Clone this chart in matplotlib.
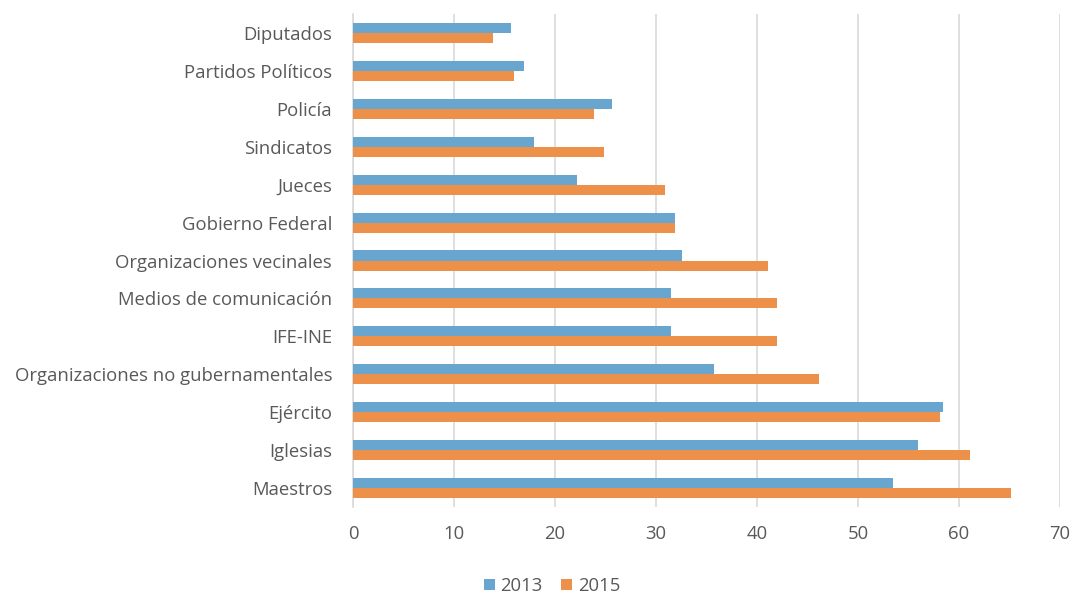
import matplotlib
matplotlib.use("Agg")
import matplotlib.pyplot as plt
import numpy as np

categories = ["Diputados", "Partidos Políticos", "Policía", "Sindicatos", "Jueces",
              "Gobierno Federal", "Organizaciones vecinales", "Medios de comunicación",
              "IFE-INE", "Organizaciones no gubernamentales", "Ejército", "Iglesias", "Maestros"]
v2013 = [15.6, 16.9, 25.6, 17.9, 22.2, 31.9, 32.6, 31.5, 31.5, 35.7, 58.4, 55.9, 53.5]
v2015 = [13.9, 15.9, 23.9, 24.9, 30.9, 31.9, 41.1, 42.0, 42.0, 46.1, 58.1, 61.1, 65.1]
series_labels = ["2013", "2015"]
xticks = [0, 10, 20, 30, 40, 50, 60, 70]

plt.rcParams['font.family'] = ['Open Sans', 'DejaVu Sans']
txt = "#595959"

fig = plt.figure(figsize=(10.7, 5.96), dpi=100)
ax = fig.add_axes([353/1070, 1-507/596, (1060-353)/1070, (507-14)/596])

y = np.arange(len(categories))
h = 0.265
c13 = "#68A6D0"
c15 = "#ED914A"
b1 = ax.barh(y - h/2, v2013, height=h, color=c13, label=series_labels[0], zorder=3)
b2 = ax.barh(y + h/2, v2015, height=h, color=c15, label=series_labels[1], zorder=3)

ax.set_ylim(len(categories) - 0.5, -0.5)
ax.set_xlim(0, 70)
ax.set_xticks(xticks)
ax.set_yticks(y)
ax.set_yticklabels(categories)
ax.tick_params(axis='both', length=0, labelsize=13.3, colors=txt)
ax.tick_params(axis='y', pad=15)
ax.tick_params(axis='x', pad=13)
ax.grid(axis='x', color="#d9d9d9", linewidth=1.2, zorder=0)
for s in ['top', 'right', 'bottom']:
    ax.spines[s].set_visible(False)
ax.spines['left'].set_color("#d9d9d9")
ax.spines['left'].set_linewidth(1.2)

fig.legend(handles=[b1, b2], labels=series_labels, loc='center', bbox_to_anchor=(552/1070, 1-586/596),
           ncol=2, frameon=False, fontsize=13.3, handlelength=0.6, handleheight=0.6,
           handletextpad=0.3, columnspacing=1.0, labelcolor=txt)

fig.savefig("out.png", dpi=100)
